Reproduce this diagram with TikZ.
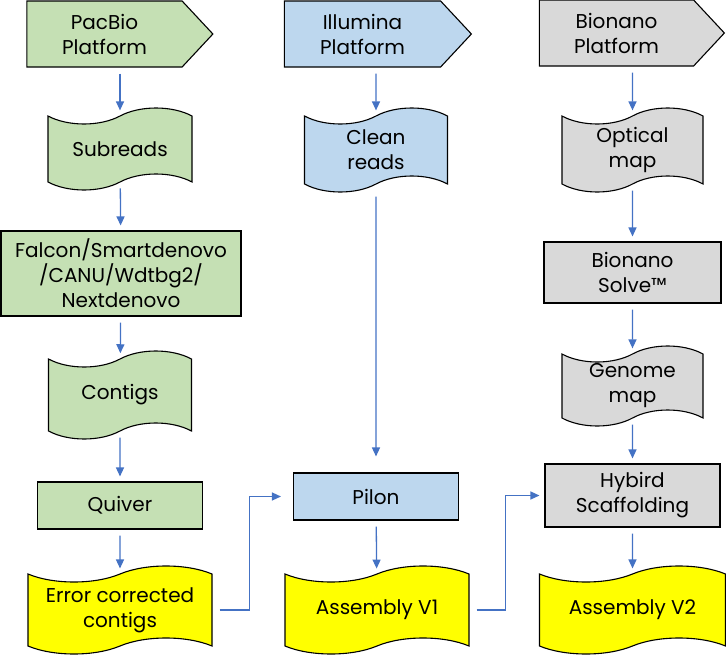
\documentclass[tikz,border=0pt]{standalone}
\usepackage{fontspec}
\setmainfont{Poppins}
\usetikzlibrary{shapes.symbols,arrows.meta,positioning}
\definecolor{pacgreen}{HTML}{C5E0B4}
\definecolor{illblue}{HTML}{BDD7EE}
\definecolor{bnggray}{HTML}{D9D9D9}
\definecolor{asmyellow}{HTML}{FFFF00}
\definecolor{linkblue}{HTML}{4472C4}

\begin{document}
\begin{tikzpicture}[x = 1pt, y = -1pt,
  box/.style = {draw = black, line width = 1.1pt, align = center, inner sep = 0pt, font = \fontsize{20}{25}\selectfont},
  platform/.style = {box, shape = signal, signal to = east, signal pointer angle = 94, minimum height = 66pt},
  reads/.style = {box, shape = tape, tape bend height = 16pt},
  tool/.style = {box, shape = rectangle},
  link/.style = {draw = linkblue, line width = 1.3pt, -{Triangle[length = 9pt, width = 8pt]}, shorten <= 6pt, shorten >= 5pt}]
\useasboundingbox (0,0) rectangle (726,656);
\node[platform, fill = pacgreen, minimum width = 186pt] (pacbio) at (104.5,34) {PacBio\\Platform};
\node[reads, fill = pacgreen, minimum width = 144pt, minimum height = 82pt] (subreads) at (120,149) {Subreads};
\node[tool, fill = pacgreen, minimum width = 240pt, minimum height = 85pt] (falcon) at (121,273.5) {Falcon/Smartdenovo\\/CANU/Wdtbg2/\\Nextdenovo};
\node[reads, fill = pacgreen, minimum width = 143pt, minimum height = 88pt] (contigs) at (120,395) {Contigs};
\node[tool, fill = pacgreen, minimum width = 165pt, minimum height = 47pt] (quiver) at (120,505.5) {Quiver};
\node[reads, fill = asmyellow, minimum width = 184pt, minimum height = 88pt] (error) at (120,610) {Error corrected\\contigs};

\node[platform, fill = illblue, minimum width = 187pt] (illumina) at (362.5,34) {Illumina\\Platform};
\node[reads, fill = illblue, minimum width = 143pt, minimum height = 84pt] (cleanreads) at (376,150) {Clean\\reads};
\node[tool, fill = illblue, minimum width = 165pt, minimum height = 47pt] (pilon) at (376,496.5) {Pilon};
\node[reads, fill = asmyellow, minimum width = 184pt, minimum height = 88pt] (asmone) at (377,610) {Assembly V1};

\node[platform, fill = bnggray, minimum width = 185pt] (bionano) at (616.5,33) {Bionano\\Platform};
\node[reads, fill = bnggray, minimum width = 141pt, minimum height = 84pt] (optical) at (632.5,150) {Optical\\map};
\node[tool, fill = bnggray, minimum width = 177pt, minimum height = 61pt] (solve) at (632.5,272.5) {Bionano\\Solve™};
\node[reads, fill = bnggray, minimum width = 141pt, minimum height = 80pt] (genome) at (632.5,386) {Genome\\map};
\node[tool, fill = bnggray, minimum width = 175pt, minimum height = 63pt] (hybrid) at (632.5,495.5) {Hybird\\Scaffolding};
\node[reads, fill = asmyellow, minimum width = 186pt, minimum height = 88pt] (asmtwo) at (632.5,610) {Assembly V2};

\draw[link] (pacbio.south -| subreads) -- (subreads);
\draw[link] (subreads) -- (falcon);
\draw[link] (falcon) -- (contigs);
\draw[link] (contigs) -- (quiver);
\draw[link] (quiver) -- (error);
\draw[link] (illumina.south -| cleanreads) -- (cleanreads);
\draw[link, shorten <= 12pt, shorten >= 16pt] (cleanreads) -- (pilon);
\draw[link] (pilon) -- (asmone);
\draw[link] (bionano.south -| optical) -- (optical);
\draw[link] (optical) -- (solve);
\draw[link] (solve) -- (genome);
\draw[link] (genome) -- (hybrid);
\draw[link] (hybrid) -- (asmtwo);
\draw[link, shorten <= 7pt, shorten >= 12pt] (error.east) -- ++(37,0) |- (pilon.west);
\draw[link, shorten <= 7pt] (asmone.east) -- ++(36,0) |- (hybrid.west);
\end{tikzpicture}
\end{document}
